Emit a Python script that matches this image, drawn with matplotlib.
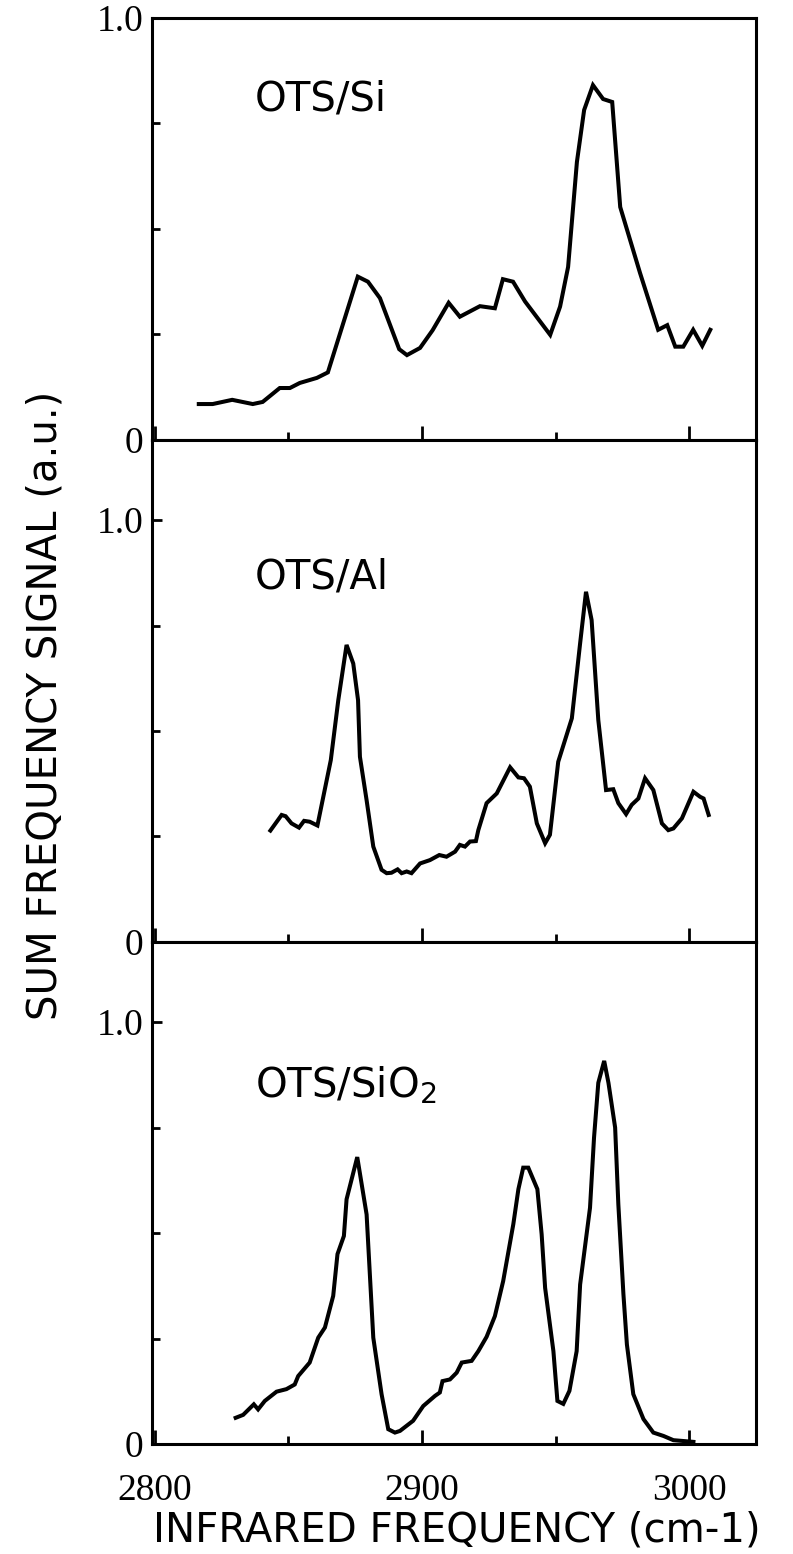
import matplotlib
matplotlib.use("Agg")
import matplotlib.pyplot as plt
from matplotlib.ticker import FixedLocator

# sum frequency spectra (frequency in cm-1, signal in a.u.)
si_freq = [2816.5, 2821.7, 2829.0, 2836.7, 2840.4, 2846.8, 2850.6, 2854.3, 2860.7,
           2864.8, 2876.0, 2879.8, 2884.3, 2891.5, 2894.4, 2899.3, 2904.0, 2910.0,
           2914.2, 2921.7, 2927.3, 2930.3, 2934.1, 2938.6, 2948.0, 2951.7, 2954.7,
           2958.0, 2960.7, 2964.0, 2967.8, 2971.2, 2974.2, 2981.6, 2988.4, 2991.8,
           2994.8, 2997.8, 3001.5, 3004.9, 3007.9]
si_signal = [0.085, 0.085, 0.095, 0.085, 0.090, 0.123, 0.123, 0.135, 0.147,
             0.160, 0.387, 0.375, 0.336, 0.215, 0.201, 0.218, 0.260, 0.325,
             0.292, 0.317, 0.312, 0.381, 0.375, 0.328, 0.249, 0.316, 0.410,
             0.659, 0.782, 0.841, 0.808, 0.801, 0.552, 0.396, 0.261, 0.272,
             0.221, 0.221, 0.261, 0.223, 0.261]

al_freq = [2843.3, 2847.5, 2849.0, 2851.2, 2854.0, 2855.9, 2858.0, 2860.9, 2865.9,
           2868.7, 2871.8, 2874.3, 2876.1, 2876.8, 2879.3, 2881.8, 2884.9, 2886.8,
           2888.6, 2890.9, 2892.4, 2894.3, 2896.1, 2899.3, 2903.0, 2906.5, 2909.2,
           2912.4, 2914.2, 2916.1, 2918.0, 2920.2, 2921.1, 2924.2, 2928.0, 2933.0,
           2936.1, 2938.2, 2940.4, 2943.0, 2946.1, 2947.9, 2951.0, 2956.1, 2959.2,
           2961.4, 2963.5, 2966.0, 2968.9, 2971.6, 2973.5, 2976.4, 2978.5, 2981.0,
           2983.5, 2986.6, 2989.8, 2992.2, 2994.1, 2997.3, 3001.6, 3004.1, 3005.4,
           3007.3]
al_signal = [0.264, 0.301, 0.298, 0.281, 0.271, 0.287, 0.285, 0.276, 0.431,
             0.573, 0.704, 0.660, 0.573, 0.439, 0.336, 0.226, 0.171, 0.163,
             0.164, 0.172, 0.163, 0.167, 0.163, 0.186, 0.194, 0.206, 0.202,
             0.214, 0.230, 0.226, 0.238, 0.239, 0.265, 0.329, 0.352, 0.414,
             0.390, 0.388, 0.368, 0.281, 0.234, 0.254, 0.427, 0.530, 0.708,
             0.830, 0.763, 0.526, 0.360, 0.362, 0.329, 0.303, 0.325, 0.340,
             0.388, 0.360, 0.281, 0.265, 0.269, 0.293, 0.356, 0.344, 0.340,
             0.301]

sio2_freq = [2830.3, 2833.1, 2837.1, 2838.7, 2841.2, 2845.6, 2849.3, 2852.4, 2853.7,
             2858.0, 2861.2, 2863.7, 2866.8, 2868.4, 2870.8, 2871.8, 2875.8, 2879.3,
             2881.8, 2884.9, 2887.4, 2889.9, 2891.8, 2896.7, 2900.5, 2904.9, 2906.7,
             2907.7, 2910.5, 2913.0, 2914.9, 2918.6, 2921.1, 2924.2, 2927.3, 2930.4,
             2934.2, 2936.1, 2937.9, 2939.8, 2943.2, 2944.8, 2946.1, 2949.2, 2950.7,
             2952.9, 2955.2, 2957.9, 2959.2, 2962.9, 2964.4, 2966.0, 2968.2, 2969.8,
             2972.3, 2973.5, 2975.4, 2976.7, 2979.1, 2982.9, 2986.6, 2990.4, 2994.1,
             3001.6]
sio2_signal = [0.062, 0.069, 0.094, 0.082, 0.102, 0.124, 0.130, 0.141, 0.161,
               0.193, 0.252, 0.276, 0.351, 0.450, 0.493, 0.580, 0.680, 0.544,
               0.252, 0.118, 0.035, 0.027, 0.031, 0.055, 0.090, 0.114, 0.122,
               0.149, 0.153, 0.169, 0.193, 0.197, 0.220, 0.254, 0.303, 0.386,
               0.521, 0.604, 0.655, 0.655, 0.604, 0.497, 0.370, 0.220, 0.102,
               0.095, 0.126, 0.220, 0.378, 0.560, 0.726, 0.856, 0.908, 0.856,
               0.750, 0.568, 0.355, 0.236, 0.118, 0.059, 0.027, 0.019, 0.009,
               0.005]

panel_names = ["OTS/Si", "OTS/Al", "OTS/SiO$_2$"]
panel_tops = [1.0, 1.19, 1.19]
label_y = [0.78, 0.837, 0.821]

plt.rcParams["mathtext.default"] = "regular"

fig, axes = plt.subplots(3, 1, figsize=(7.93, 15.54), dpi=100, sharex=True,
                         gridspec_kw={"height_ratios": panel_tops, "hspace": 0})
fig.subplots_adjust(left=0.1917, right=0.9533, top=0.9884, bottom=0.0708)

series = [(si_freq, si_signal), (al_freq, al_signal), (sio2_freq, sio2_signal)]

for ax, (fx, fy), name, top, ly in zip(axes, series, panel_names, panel_tops, label_y):
    ax.plot(fx, fy, color="black", lw=2.9, solid_joinstyle="miter")
    ax.set_xlim(2799, 3025)
    ax.set_ylim(0, top)
    for s in ax.spines.values():
        s.set_linewidth(2.2)
    ax.xaxis.set_major_locator(FixedLocator([2800, 2900, 3000]))
    ax.xaxis.set_minor_locator(FixedLocator([2850, 2950]))
    ax.yaxis.set_major_locator(FixedLocator([0, 1.0]))
    ax.yaxis.set_minor_locator(FixedLocator([0.25, 0.5, 0.75]))
    ax.set_yticklabels(["0", "1.0"])
    ax.tick_params(axis="both", which="major", labelsize=27,
                   labelfontfamily="Liberation Serif")
    ax.tick_params(axis="x", which="major", direction="in", length=10, width=2,
                   top=False, pad=21)
    ax.tick_params(axis="x", which="minor", direction="in", length=6, width=2, top=False)
    ax.tick_params(axis="y", which="major", direction="in", length=7, width=2,
                   right=False, pad=6)
    ax.tick_params(axis="y", which="minor", direction="in", length=6, width=2, right=False)
    ax.text(2837.5, ly, name, fontsize=29, family="DejaVu Sans", ha="left", va="baseline")

for ax in axes[:-1]:
    ax.tick_params(axis="x", labelbottom=False)

fig.text(0.057, 0.5463, "SUM FREQUENCY SIGNAL (a.u.)", rotation=90, fontsize=29,
         family="DejaVu Sans", ha="center", va="center")
fig.text(0.576, 0.0154, "INFRARED FREQUENCY (cm-1)", fontsize=29,
         family="DejaVu Sans", ha="center", va="center")

fig.savefig("out.png", dpi=100)
